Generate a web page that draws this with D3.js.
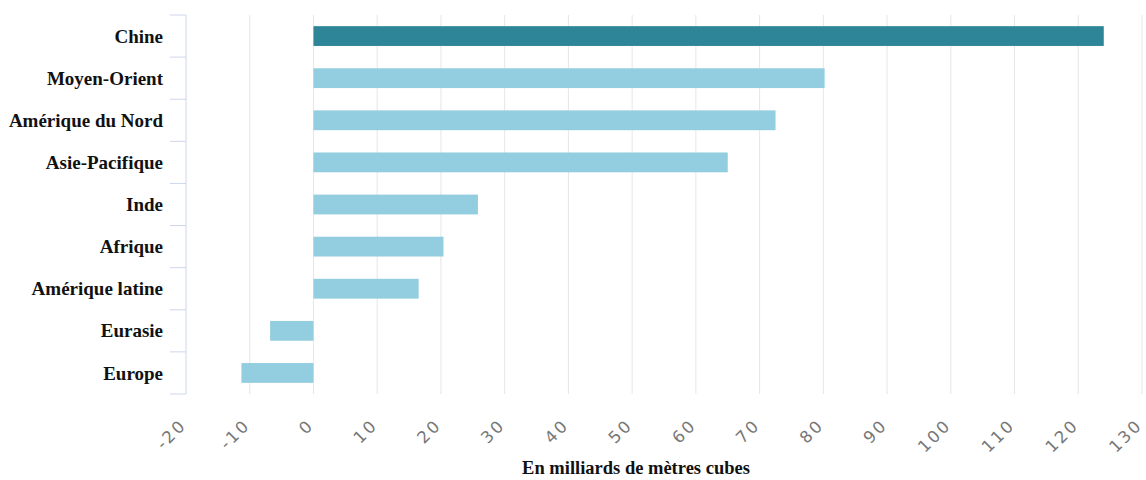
<!DOCTYPE html>
<html>
<head>
<meta charset="utf-8">
<script src="https://cdn.jsdelivr.net/npm/d3@7/dist/d3.min.js"></script>
<style>
  body { margin: 0; background: #fff; }
</style>
</head>
<body>
<div id="chart-area"></div>
<script>
var regions = ["Chine", "Moyen-Orient", "Amérique du Nord", "Asie-Pacifique", "Inde",
               "Afrique", "Amérique latine", "Eurasie", "Europe"];
var values = [124, 80.2, 72.5, 65, 25.8, 20.4, 16.5, -6.8, -11.3];
var xTicks = [-20, -10, 0, 10, 20, 30, 40, 50, 60, 70, 80, 90, 100, 110, 120, 130];
var axisTitle = "En milliards de mètres cubes";

var width = 1146, height = 480;
var margin = {top: 15, right: 4, bottom: 86, left: 186};
var innerW = width - margin.left - margin.right;
var innerH = height - margin.top - margin.bottom;

var svg = d3.select("#chart-area").append("svg")
    .attr("width", width)
    .attr("height", height);

var g = svg.append("g")
    .attr("transform", "translate(" + margin.left + "," + margin.top + ")");

var x = d3.scaleLinear().domain([-20, 130]).range([0, 1142 - margin.left]);
var y = d3.scaleBand().domain(regions).range([0, innerH]).paddingInner(0.53).paddingOuter(0.265);

// gridlines
g.selectAll(".grid").data(xTicks.slice(1)).enter().append("line")
    .attr("class", "grid")
    .attr("x1", d => x(d)).attr("x2", d => x(d))
    .attr("y1", 0).attr("y2", innerH)
    .attr("stroke", "#e6e6e6").attr("stroke-width", 1);

// left axis with category ticks
var step = innerH / regions.length;
g.append("line")
    .attr("x1", 0).attr("x2", 0).attr("y1", 0).attr("y2", innerH)
    .attr("stroke", "#ccd6eb");
g.selectAll(".ytick").data(d3.range(regions.length + 1)).enter().append("line")
    .attr("x1", -16).attr("x2", 0)
    .attr("y1", i => i * step).attr("y2", i => i * step)
    .attr("stroke", "#ccd6eb");

g.selectAll(".ylab").data(regions).enter().append("text")
    .attr("x", -23)
    .attr("y", d => y(d) + y.bandwidth() / 2)
    .attr("dy", "0.35em")
    .attr("text-anchor", "end")
    .attr("font-family", "Liberation Serif, serif")
    .attr("font-weight", "bold")
    .attr("font-size", "19px")
    .attr("fill", "#111")
    .text(d => d);

// bars
g.selectAll(".bar").data(regions).enter().append("rect")
    .attr("class", "bar")
    .attr("x", (d, i) => x(Math.min(0, values[i])))
    .attr("width", (d, i) => Math.abs(x(values[i]) - x(0)))
    .attr("y", d => y(d))
    .attr("height", y.bandwidth())
    .attr("fill", (d, i) => i === 0 ? "#2e8598" : "#92cde0");

// x tick labels rotated
g.selectAll(".xlab").data(xTicks).enter().append("text")
    .attr("transform", d => "translate(" + (x(d) + 1.5) + "," + (innerH + 32) + ") rotate(-45)")
    .attr("text-anchor", "end")
    .attr("font-family", "DejaVu Sans, sans-serif")
    .attr("font-size", "16.5px")
    .attr("letter-spacing", "2.5px")
    .attr("fill", "#777")
    .text(d => d);

svg.append("text")
    .attr("x", 636)
    .attr("y", 474)
    .attr("text-anchor", "middle")
    .attr("font-family", "Liberation Serif, serif")
    .attr("font-weight", "bold")
    .attr("font-size", "18.5px")
    .attr("fill", "#111")
    .text(axisTitle);
</script>
</body>
</html>
